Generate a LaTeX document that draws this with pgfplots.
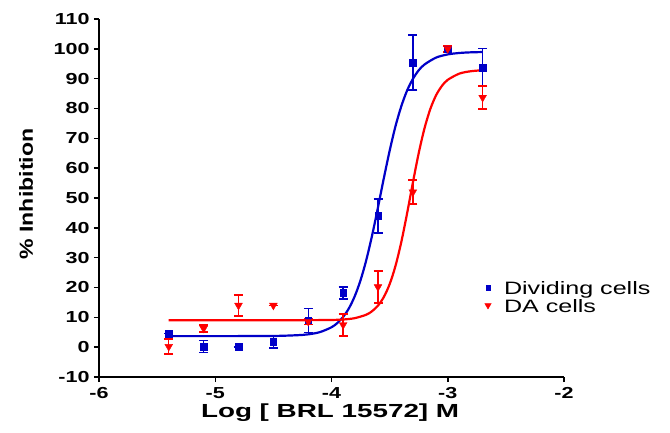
\documentclass[border=0pt]{standalone}
\usepackage{fontspec}
\setmainfont{Liberation Sans}
\newfontfamily\tickf[FakeStretch=1.35]{Liberation Sans}
\newfontfamily\xlabf[FakeStretch=1.47]{Liberation Sans}
\newfontfamily\ylabf[FakeStretch=1.22]{Liberation Sans}
\newfontfamily\legf[FakeStretch=1.4]{Liberation Sans}
\usepackage{pgfplots}
\pgfplotsset{compat=1.18}
\definecolor{gpblue}{RGB}{0,0,200}
\definecolor{gpred}{RGB}{255,0,0}
\begin{document}
\begin{tikzpicture}
\useasboundingbox (-99bp,-56bp) rectangle (571bp,377bp);
\begin{axis}[
  scale only axis, width=465bp, height=358bp,
  at={(0,0)}, anchor=south west,
  xmin=-6, xmax=-2, ymin=-10, ymax=110,
  axis x line*=bottom, axis y line*=left,
  axis line style={line width=1.8bp, black},
  xtick={-6,-5,-4,-3,-2}, xticklabels={-6,-5,-4,-3,-2},
  ytick={-10,0,10,20,30,40,50,60,70,80,90,100,110},
  yticklabels={-10,0,10,20,30,40,50,60,70,80,90,100,110},
  tick align=outside, major tick length=5bp,
  tick style={line width=1.5bp, black},
  ticklabel style={font=\tickf\bfseries\fontsize{16}{18}\selectfont},
  xticklabel style={yshift=-2bp},
  yticklabel style={xshift=-1bp},
  xlabel={Log [ BRL 15572] M},
  xlabel style={font=\xlabf\bfseries\fontsize{19}{22}\selectfont, at={(axis description cs:0.497,-0.1145)}, anchor=base},
  ylabel={\% Inhibition},
  ylabel style={font=\ylabf\bfseries\fontsize{19}{22}\selectfont, at={(axis description cs:-0.142,0.511)}, anchor=base},
  clip=false,
  legend style={draw=none, fill=none, at={(rel axis cs:0.8224,0.279)}, anchor=north west,
    font=\legf\fontsize{18}{20}\selectfont, row sep=0bp,
    legend cell align=left},
  legend image code/.code={},
]
% Blue fitted curve
\addplot[gpblue, line width=2.2bp, smooth, forget plot] coordinates {
(-5.4,3.70) (-4.8,3.71) (-4.5,3.75) (-4.3,4.0) (-4.2,4.30) (-4.1,5.04) (-4.0,6.67) (-3.95,8.09)
(-3.9,10.14) (-3.85,13.04) (-3.8,17.08) (-3.75,22.46) (-3.7,29.32) (-3.65,37.6)
(-3.6,46.9) (-3.55,56.6) (-3.5,65.8) (-3.45,74.0) (-3.4,80.7) (-3.35,86.0)
(-3.3,89.9) (-3.25,92.8) (-3.2,94.75) (-3.1,97.07) (-3.0,98.13) (-2.9,98.61)
(-2.8,98.83) (-2.7,98.92)
};
% Blue data
\addplot[only marks, mark=square*, mark size=3.3bp, color=gpblue, forget plot,
  error bars/.cd, y dir=both, y explicit, error mark=|,
  error bar style={line width=1.5bp, gpblue},
  error mark options={line width=1.5bp, gpblue, mark size=4.5bp}]
  table[x=x, y=y, y error=e] {
x y e
-5.4 4.6 0
-5.1 0.2 2.0
-4.8 0.1 0
-4.5 1.8 2.0
-4.2 9.0 4.0
-3.9 18.2 2.0
-3.6 44.0 5.7
-3.3 95.4 9.2
-3.0 99.9 1.0
-2.7 93.7 6.4
};
% Red fitted curve
\addplot[gpred, line width=2.2bp, smooth, forget plot] coordinates {
(-5.4,9.0) (-4.5,9.0) (-4.2,9.05) (-4.0,9.12) (-3.9,9.27) (-3.8,9.72) (-3.7,10.9) (-3.65,12.09)
(-3.6,13.94) (-3.55,16.81) (-3.5,21.10) (-3.45,27.18) (-3.4,35.17) (-3.35,44.8)
(-3.3,55.15) (-3.25,65.0) (-3.2,73.37) (-3.15,79.83) (-3.1,84.47) (-3.05,87.58)
(-3.0,89.61) (-2.9,91.7) (-2.8,92.5) (-2.7,92.82)
};
% Red data
\addplot[only marks, mark=triangle*, mark options={rotate=180}, mark size=4.5bp, color=gpred, forget plot,
  error bars/.cd, y dir=both, y explicit, error mark=|,
  error bar style={line width=1.5bp, gpred},
  error mark options={line width=1.5bp, gpred, mark size=4.5bp}]
  table[x=x, y=y, y error=e] {
x y e
-5.4 0.2 2.5
-5.1 6.3 1.2
-4.8 14.0 3.5
-4.5 14.0 0
-4.2 8.6 1.0
-3.9 7.5 3.7
-3.6 20.2 5.4
-3.3 52.0 4.0
-3.0 100.0 1.0
-2.7 83.7 3.8
};
\addlegendimage{legend image code/.code={\path[draw=none,fill=none] (0,0) -- (14bp,0); \fill[gpblue] (-2.3bp,-1.6bp) rectangle (2.3bp,3.0bp);}}
\addlegendentry{Dividing cells}
\addlegendimage{legend image code/.code={\path[draw=none,fill=none] (0,0) -- (14bp,0); \fill[gpred] (-3.2bp,3.4bp) -- (3.2bp,3.4bp) -- (0,-2.0bp) -- cycle;}}
\addlegendentry{DA cells}
\end{axis}
\end{tikzpicture}
\end{document}
